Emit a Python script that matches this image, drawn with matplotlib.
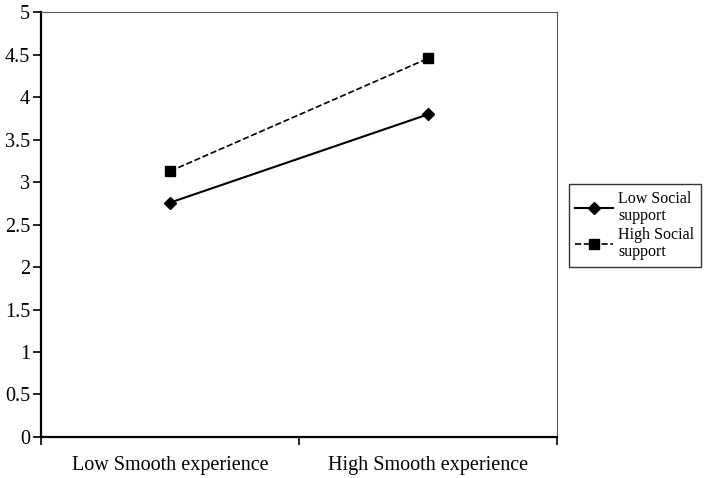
import numpy as np
import matplotlib.pyplot as plt

categories = ['Low Smooth experience', 'High Smooth experience']
low_support = [2.76, 3.80]
high_support = [3.13, 4.46]
series_names = ['Low Social\nsupport', 'High Social\nsupport']

plt.rcParams['font.family'] = ['Liberation Serif', 'DejaVu Serif']

fig = plt.figure(figsize=(7.09, 4.78), dpi=100)
ax = fig.add_axes([0.058, 0.086, 0.728, 0.888])

x = np.arange(len(categories)) + 0.5
ax.plot(x, low_support, color='black', linestyle='-', linewidth=1.5,
        marker='D', markersize=6, label=series_names[0])
ax.plot(x, high_support, color='black', linestyle='--', linewidth=1.2,
        marker='s', markersize=7, label=series_names[1])

ax.set_xlim(0, len(categories))
ax.set_ylim(0, 5)
ax.set_yticks(np.arange(0, 5.01, 0.5))
ax.set_yticklabels(['0', '0.5', '1', '1.5', '2', '2.5', '3', '3.5', '4', '4.5', '5'])
ax.set_xticks(np.arange(len(categories) + 1))
ax.set_xticklabels([])
ax.set_xticks(x, minor=True)
ax.set_xticklabels(categories, minor=True)
ax.tick_params(axis='x', which='minor', length=0, labelsize=14.5, pad=14)
ax.tick_params(axis='x', which='major', direction='out', length=6, width=1.2)
ax.tick_params(axis='y', direction='out', length=6, width=1.2, labelsize=14.5,
               pad=2)

for side in ['left', 'bottom']:
    ax.spines[side].set_linewidth(1.6)
for side in ['top', 'right']:
    ax.spines[side].set_linewidth(0.8)
    ax.spines[side].set_color('#555555')

leg = ax.legend(loc='center left', bbox_to_anchor=(1.022, 0.498), frameon=True,
                fancybox=False, edgecolor='black', fontsize=11.5,
                handlelength=2.4, borderpad=0.4, labelspacing=0.2,
                handletextpad=0.3, borderaxespad=0)
leg.get_frame().set_linewidth(1.0)
for t in leg.get_texts():
    t.set_linespacing(1.1)

fig.savefig('out.png', dpi=100)
